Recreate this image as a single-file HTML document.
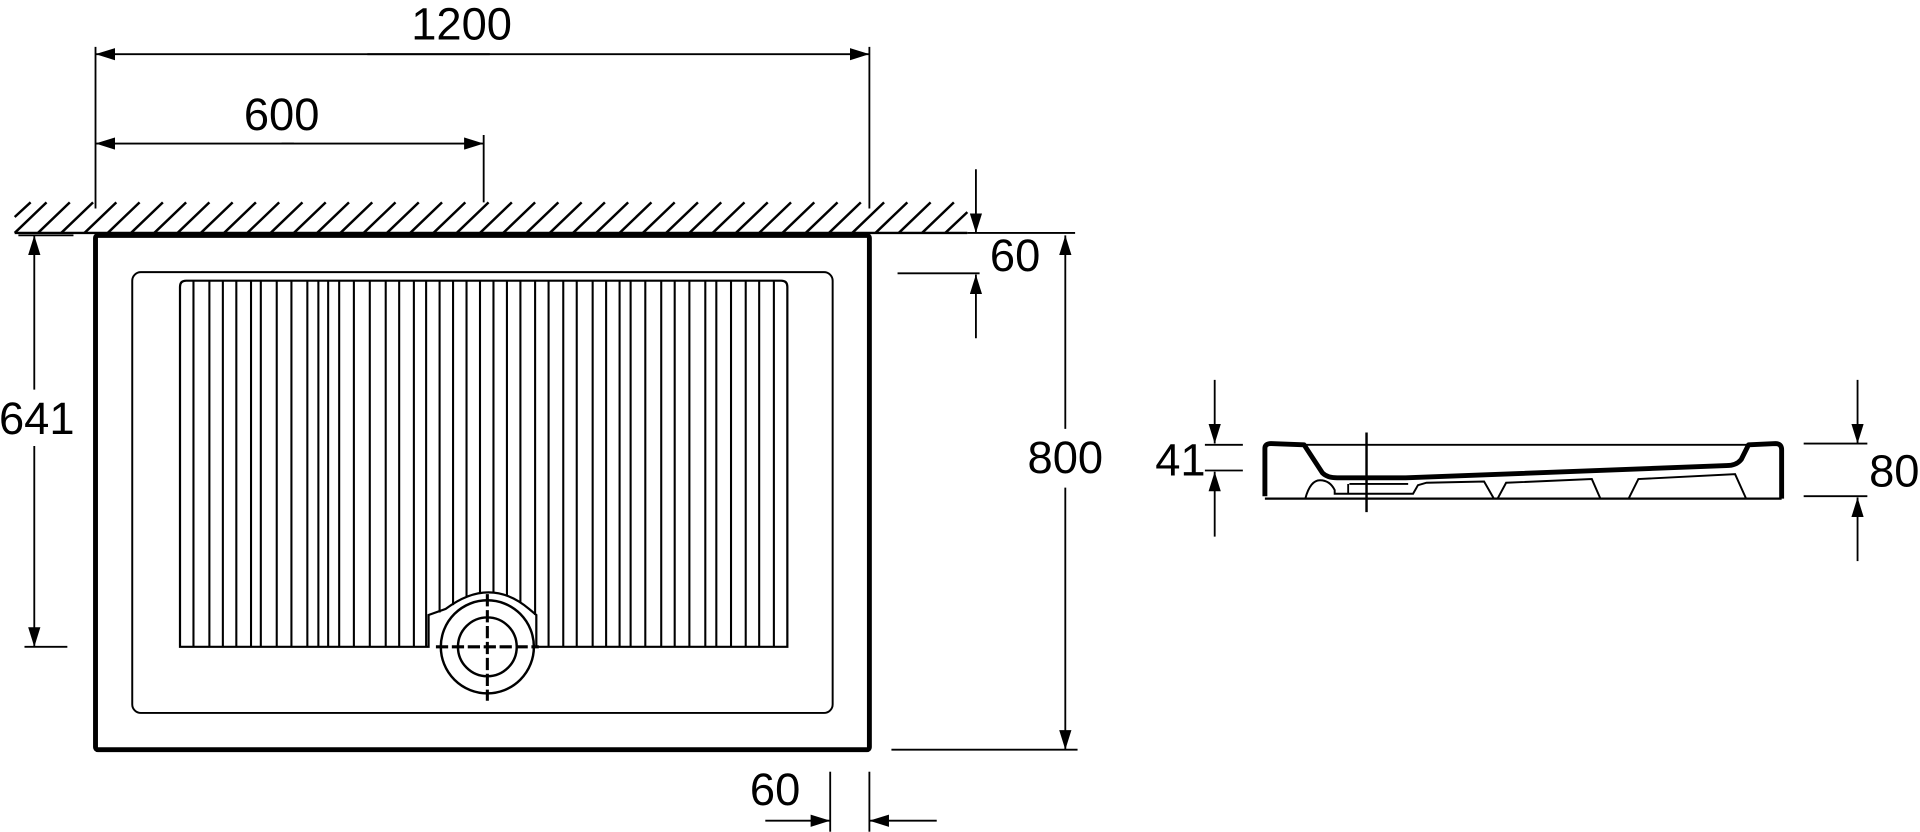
<!DOCTYPE html>
<html><head><meta charset="utf-8"><style>
html,body{margin:0;padding:0;background:#fff;}
svg{display:block;}
text{font-family:"Liberation Sans",sans-serif;font-size:37px;fill:#000;}
</style></head><body>
<svg width="1920" height="832" viewBox="0 0 1568 679" xmlns="http://www.w3.org/2000/svg">
<defs>
<marker id="b" markerWidth="16" markerHeight="10" refX="16" refY="5" orient="auto" markerUnits="userSpaceOnUse">
<path d="M0,0 L16,5 L0,10 Z" fill="#000"/></marker>
</defs>
<g stroke="#000" fill="none">
<line x1="12" y1="190" x2="790" y2="190" stroke-width="2"/>
<g stroke-width="2">
<line x1="12" y1="177" x2="25" y2="165"/><line x1="12" y1="190" x2="38" y2="165"/><line x1="31" y1="190" x2="57" y2="165"/><line x1="50" y1="190" x2="76" y2="165"/><line x1="69" y1="190" x2="95" y2="165"/><line x1="88" y1="190" x2="114" y2="165"/><line x1="107" y1="190" x2="133" y2="165"/><line x1="126" y1="190" x2="152" y2="165"/><line x1="145" y1="190" x2="171" y2="165"/><line x1="164" y1="190" x2="190" y2="165"/><line x1="183" y1="190" x2="209" y2="165"/><line x1="202" y1="190" x2="228" y2="165"/><line x1="221" y1="190" x2="247" y2="165"/><line x1="240" y1="190" x2="266" y2="165"/><line x1="259" y1="190" x2="285" y2="165"/><line x1="278" y1="190" x2="304" y2="165"/><line x1="297" y1="190" x2="323" y2="165"/><line x1="316" y1="190" x2="342" y2="165"/><line x1="335" y1="190" x2="361" y2="165"/><line x1="354" y1="190" x2="380" y2="165"/><line x1="373" y1="190" x2="399" y2="165"/><line x1="392" y1="190" x2="418" y2="165"/><line x1="411" y1="190" x2="437" y2="165"/><line x1="430" y1="190" x2="456" y2="165"/><line x1="449" y1="190" x2="475" y2="165"/><line x1="468" y1="190" x2="494" y2="165"/><line x1="487" y1="190" x2="513" y2="165"/><line x1="506" y1="190" x2="532" y2="165"/><line x1="525" y1="190" x2="551" y2="165"/><line x1="544" y1="190" x2="570" y2="165"/><line x1="563" y1="190" x2="589" y2="165"/><line x1="582" y1="190" x2="608" y2="165"/><line x1="601" y1="190" x2="627" y2="165"/><line x1="620" y1="190" x2="646" y2="165"/><line x1="639" y1="190" x2="665" y2="165"/><line x1="658" y1="190" x2="684" y2="165"/><line x1="677" y1="190" x2="703" y2="165"/><line x1="696" y1="190" x2="722" y2="165"/><line x1="715" y1="190" x2="741" y2="165"/><line x1="734" y1="190" x2="760" y2="165"/><line x1="753" y1="190" x2="779" y2="165"/><line x1="772" y1="190" x2="790" y2="173"/>
</g>
<rect x="78" y="192" width="632" height="420" stroke-width="4" rx="2"/>
<rect x="108" y="222" width="572" height="360" rx="7" stroke-width="1.6"/>
<path d="M147,528 L147,234 Q147,229 152,229 L638,229 Q643,229 643,234 L643,528 L438,528 L438,502 L432,497 Q400,470 364,497 L350,502 L350,528 Z" stroke-width="1.8" fill="#fff"/>
<g stroke-width="1.7">
<line x1="158" y1="229" x2="158" y2="528"/><line x1="171" y1="229" x2="171" y2="528"/><line x1="182" y1="229" x2="182" y2="528"/><line x1="193" y1="229" x2="193" y2="528"/><line x1="205" y1="229" x2="205" y2="528"/><line x1="213" y1="229" x2="213" y2="528"/><line x1="226" y1="229" x2="226" y2="528"/><line x1="238" y1="229" x2="238" y2="528"/><line x1="251" y1="229" x2="251" y2="528"/><line x1="260" y1="229" x2="260" y2="528"/><line x1="268" y1="229" x2="268" y2="528"/><line x1="277" y1="229" x2="277" y2="528"/><line x1="289" y1="229" x2="289" y2="528"/><line x1="302" y1="229" x2="302" y2="528"/><line x1="315" y1="229" x2="315" y2="528"/><line x1="326" y1="229" x2="326" y2="528"/><line x1="338" y1="229" x2="338" y2="528"/><line x1="348" y1="229" x2="348" y2="528"/><line x1="359" y1="229" x2="359" y2="500"/><line x1="370" y1="229" x2="370" y2="494"/><line x1="381" y1="229" x2="381" y2="487"/><line x1="392" y1="229" x2="392" y2="484"/><line x1="403" y1="229" x2="403" y2="484"/><line x1="414" y1="229" x2="414" y2="486"/><line x1="425" y1="229" x2="425" y2="492"/><line x1="437" y1="229" x2="437" y2="502"/><line x1="448" y1="229" x2="448" y2="528"/><line x1="460" y1="229" x2="460" y2="528"/><line x1="471" y1="229" x2="471" y2="528"/><line x1="484" y1="229" x2="484" y2="528"/><line x1="495" y1="229" x2="495" y2="528"/><line x1="506" y1="229" x2="506" y2="528"/><line x1="515" y1="229" x2="515" y2="528"/><line x1="527" y1="229" x2="527" y2="528"/><line x1="540" y1="229" x2="540" y2="528"/><line x1="551" y1="229" x2="551" y2="528"/><line x1="563" y1="229" x2="563" y2="528"/><line x1="576" y1="229" x2="576" y2="528"/><line x1="585" y1="229" x2="585" y2="528"/><line x1="597" y1="229" x2="597" y2="528"/><line x1="609" y1="229" x2="609" y2="528"/><line x1="620" y1="229" x2="620" y2="528"/><line x1="632" y1="229" x2="632" y2="528"/>
</g>
<circle cx="398" cy="528" r="38" stroke-width="2" fill="#fff"/>
<circle cx="398" cy="528" r="24" stroke-width="2"/>
<line x1="398" y1="485" x2="398" y2="572" stroke-width="2.5" stroke-dasharray="10,3"/>
<line x1="356" y1="528" x2="440" y2="528" stroke-width="2.5" stroke-dasharray="10,3"/>
<line x1="78" y1="38" x2="78" y2="170" stroke-width="1.5"/>
<line x1="710" y1="38" x2="710" y2="170" stroke-width="1.5"/>
<line x1="395" y1="110" x2="395" y2="165" stroke-width="1.5"/>
<line x1="300" y1="44" x2="710" y2="44" stroke-width="1.5" marker-end="url(#b)"/>
<line x1="400" y1="44" x2="78" y2="44" stroke-width="1.5" marker-end="url(#b)"/>
<line x1="230" y1="117" x2="395" y2="117" stroke-width="1.5" marker-end="url(#b)"/>
<line x1="240" y1="117" x2="78" y2="117" stroke-width="1.5" marker-end="url(#b)"/>
<line x1="15" y1="192" x2="60" y2="192" stroke-width="1.5"/>
<line x1="20" y1="528" x2="55" y2="528" stroke-width="1.5"/>
<line x1="28" y1="318" x2="28" y2="192" stroke-width="1.5" marker-end="url(#b)"/>
<line x1="28" y1="364" x2="28" y2="528" stroke-width="1.5" marker-end="url(#b)"/>
<line x1="790" y1="190" x2="878" y2="190" stroke-width="1.5"/>
<line x1="728" y1="612" x2="880" y2="612" stroke-width="1.5"/>
<line x1="870" y1="350" x2="870" y2="192" stroke-width="1.5" marker-end="url(#b)"/>
<line x1="870" y1="398" x2="870" y2="612" stroke-width="1.5" marker-end="url(#b)"/>
<line x1="733" y1="223" x2="800" y2="223" stroke-width="1.5"/>
<line x1="797" y1="138" x2="797" y2="190" stroke-width="1.5" marker-end="url(#b)"/>
<line x1="797" y1="276" x2="797" y2="224" stroke-width="1.5" marker-end="url(#b)"/>
<line x1="678" y1="630" x2="678" y2="679" stroke-width="1.5"/>
<line x1="710" y1="630" x2="710" y2="679" stroke-width="1.5"/>
<line x1="625" y1="670" x2="678" y2="670" stroke-width="1.5" marker-end="url(#b)"/>
<line x1="765" y1="670" x2="710" y2="670" stroke-width="1.5" marker-end="url(#b)"/>
<path d="M1033,405 L1033,366 Q1033,362 1038,362 L1065,363 L1080,386 Q1084,390 1092,390 L1148,390 L1410,380 Q1418,380 1422,375 L1428,363 L1450,362 Q1455,362 1455,367 L1455,407" stroke-width="4" stroke-linejoin="round"/>
<line x1="1065" y1="363" x2="1428" y2="363" stroke-width="1.5"/>
<line x1="1033" y1="407" x2="1455" y2="407" stroke-width="1.8"/>
<path d="M1066,407 Q1070,392 1078,392 Q1086,392 1090,400 L1090,403 L1154,403 L1158,396 L1165,394 L1212,393 L1220,407 M1223,407 L1230,394 L1300,391 L1307,407 M1330,407 L1338,391 L1417,387 L1426,407" stroke-width="1.6"/>
<line x1="1102" y1="395" x2="1150" y2="395" stroke-width="1.5"/>
<line x1="1101" y1="395" x2="1101" y2="403" stroke-width="1.5"/>
<line x1="1116" y1="353" x2="1116" y2="418" stroke-width="2"/>
<line x1="984" y1="363" x2="1015" y2="363" stroke-width="1.5"/>
<line x1="984" y1="384" x2="1015" y2="384" stroke-width="1.5"/>
<line x1="992" y1="310" x2="992" y2="362" stroke-width="1.5" marker-end="url(#b)"/>
<line x1="992" y1="438" x2="992" y2="385" stroke-width="1.5" marker-end="url(#b)"/>
<line x1="1473" y1="362" x2="1525" y2="362" stroke-width="1.5"/>
<line x1="1473" y1="405" x2="1525" y2="405" stroke-width="1.5"/>
<line x1="1517" y1="310" x2="1517" y2="362" stroke-width="1.5" marker-end="url(#b)"/>
<line x1="1517" y1="458" x2="1517" y2="406" stroke-width="1.5" marker-end="url(#b)"/>
</g>
<text x="377" y="32" text-anchor="middle">1200</text>
<text x="230" y="106" text-anchor="middle">600</text>
<text x="30" y="354" text-anchor="middle">641</text>
<text x="870" y="386" text-anchor="middle">800</text>
<text x="829" y="221" text-anchor="middle">60</text>
<text x="633" y="657" text-anchor="middle">60</text>
<text x="964" y="388" text-anchor="middle">41</text>
<text x="1547" y="397" text-anchor="middle">80</text>
</svg>
</body></html>
